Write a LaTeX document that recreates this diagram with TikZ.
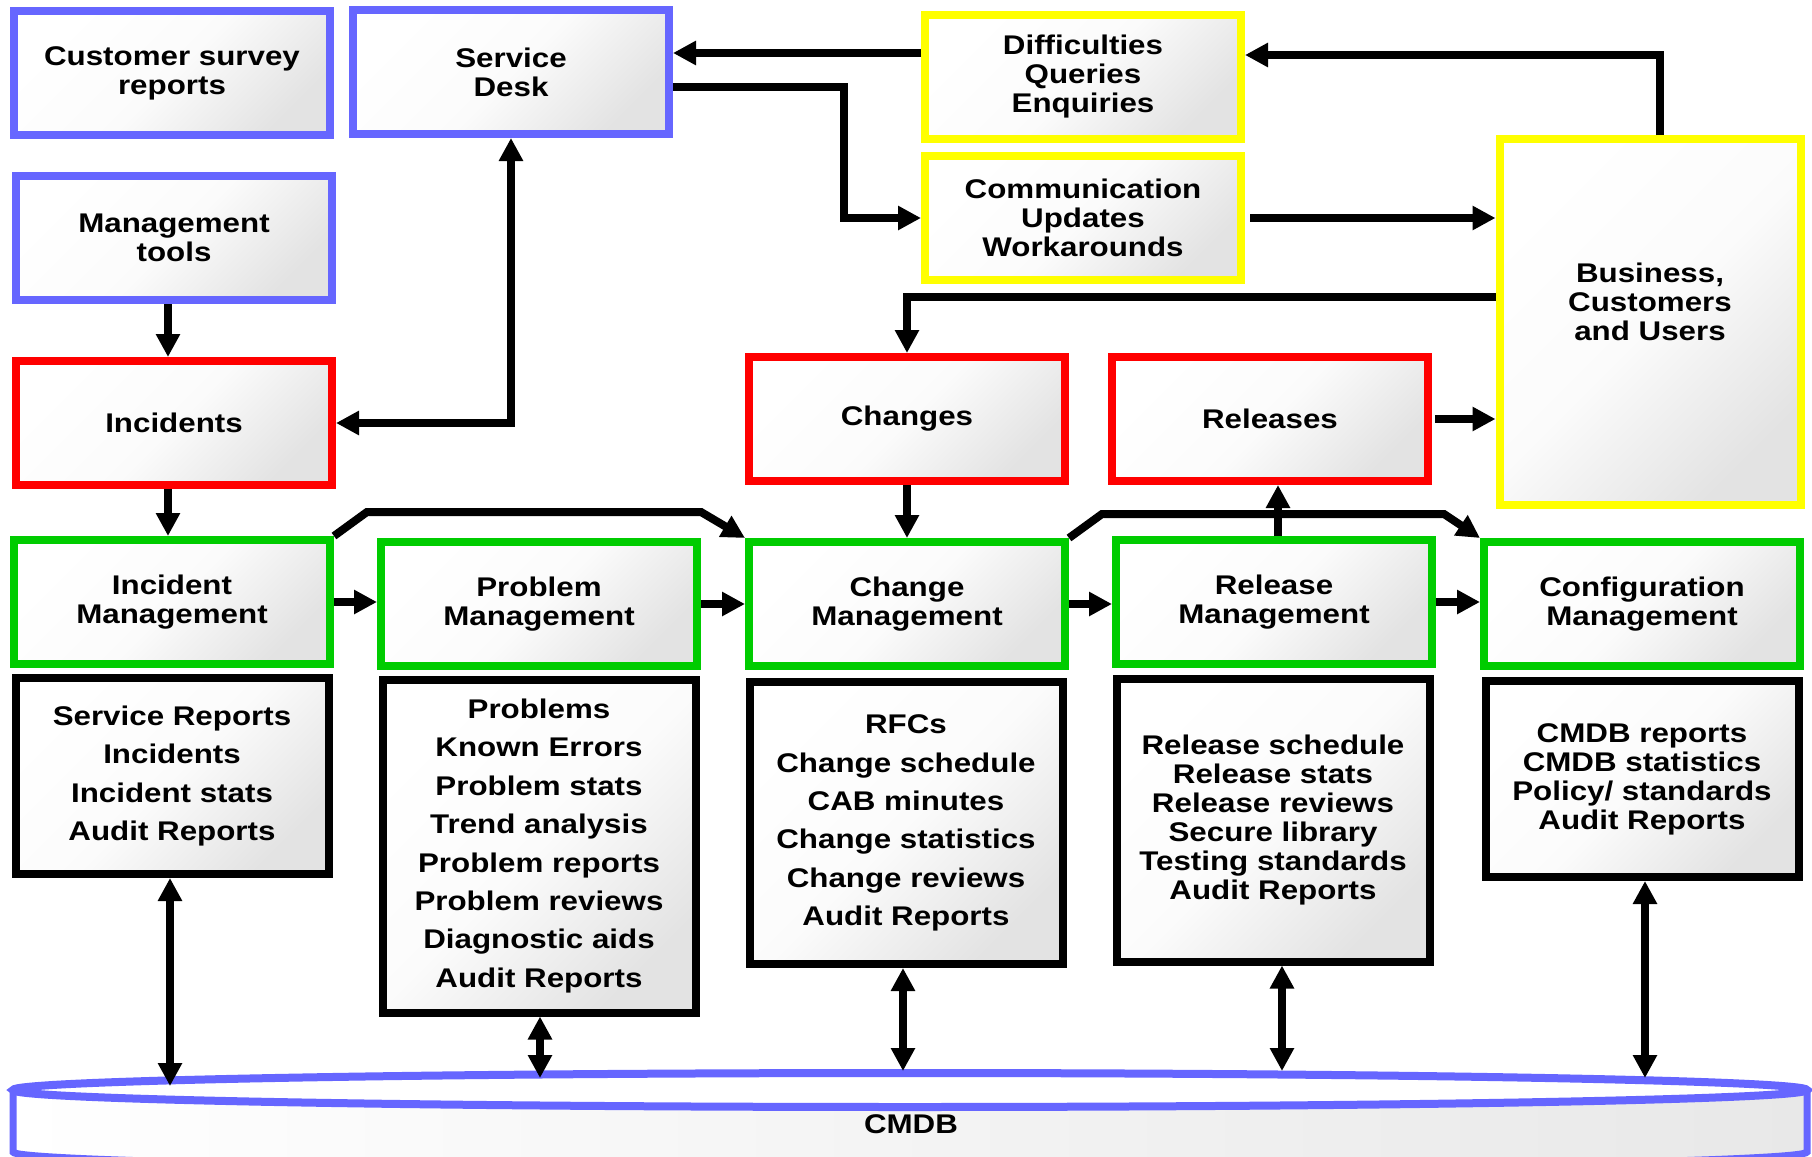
\documentclass[tikz,border=0pt]{standalone}
\usepackage{fontspec}
\newfontfamily\boxfont{Liberation Sans Bold}[FakeStretch=1.16]
\usetikzlibrary{arrows.meta,calc}
\definecolor{itilblue}{HTML}{6666FF}
\definecolor{itilred}{HTML}{FF0000}
\definecolor{itilyellow}{HTML}{FFFF00}
\definecolor{itilgreen}{HTML}{00CC00}

\begin{document}
\begin{tikzpicture}[x=0.5pt, y=-0.5pt, >={Triangle[length=11.5pt,width=11.5pt]},
	box/.style={draw, line width=4pt, minimum width=158pt, minimum height=62pt, inner sep=2pt, align=center,
		top color=white, bottom color=gray!22, middle color=white!97!gray, shading angle=45, font=\boxfont\fontsize{13.5}{14.5}\selectfont},
	inputbox/.style={box, draw=itilblue},
	eventbox/.style={box, draw=itilred},
	userbox/.style={box, draw=itilyellow},
	procbox/.style={box, draw=itilgreen},
	reportbox/.style={box, draw=black, minimum width=156.5pt},
	loose/.style={font=\boxfont\fontsize{13.5}{19.2}\selectfont},
	flow/.style={->, line width=4pt}]
	\useasboundingbox (0,0) rectangle (1812,1157);
	% sources and users
	\node[inputbox] (survey) at (172,73) {Customer survey\\reports};
	\node[inputbox] (desk) at (511,72) {Service\\Desk};
	\node[inputbox] (tools) at (174,238) {Management\\tools};
	\node[userbox] (queries) at (1083,77) {Difficulties\\Queries\\Enquiries};
	\node[userbox] (comms) at (1083,218) {Communication\\Updates\\Workarounds};
	\node[userbox, minimum width=150.5pt, minimum height=183pt] (business) at (1650,322) {Business,\\Customers\\and Users\\[5.5pt]~};
	% events
	\node[eventbox] (incidents) at (174,423) {Incidents};
	\node[eventbox] (changes) at (907,419) {Changes};
	\node[eventbox] (releases) at (1270,419) {Releases};
	% processes
	\node[procbox] (incmgmt) at (172,602) {Incident\\Management};
	\node[procbox] (probmgmt) at (539,604) {Problem\\Management};
	\node[procbox] (chgmgmt) at (907,604) {Change\\Management};
	\node[procbox] (relmgmt) at (1274,602) {Release\\Management};
	\node[procbox] (cfgmgmt) at (1642,604) {Configuration\\Management};
	% outputs
	\node[reportbox, loose, minimum height=98pt] (increp) at (172,776) {Service Reports\\Incidents\\Incident stats\\Audit Reports};
	\node[reportbox, loose, minimum height=166.5pt] (probrep) at (539,846) {Problems\\Known Errors\\Problem stats\\Trend analysis\\Problem reports\\Problem reviews\\Diagnostic aids\\Audit Reports};
	\node[reportbox, loose, minimum height=141pt] (chgrep) at (906,823) {RFCs\\Change schedule\\CAB minutes\\Change statistics\\Change reviews\\Audit Reports};
	\node[reportbox, minimum height=141.5pt] (relrep) at (1273,820) {Release schedule\\Release stats\\Release reviews\\Secure library\\Testing standards\\Audit Reports};
	\node[reportbox, minimum height=98pt] (cfgrep) at (1642,779) {CMDB reports\\CMDB statistics\\Policy/ standards\\Audit Reports};
	% CMDB drum
	\fill[left color=white, right color=gray!18] (13,1090) -- (13,1152) arc[start angle=180, end angle=0, x radius=897, y radius=17] -- (1807,1090) -- cycle;
	\draw[itilblue, line width=3.5pt] (13,1090) -- (13,1152) arc[start angle=180, end angle=0, x radius=897, y radius=17] -- (1807,1090);
	\draw[itilblue, line width=4pt, fill=white] (910,1090) ellipse[x radius=897, y radius=17];
	\node[font=\boxfont\fontsize{13.5}{14.5}\selectfont] (cmdb) at (911,1124) {CMDB};
	% connectors
	\coordinate (qd) at ($(queries.west)+(0,-24)$);
	\draw[flow] (qd) -- (qd -| desk.east);
	\draw[flow] ($(desk.east)+(0,15)$) -- ++(171,0) |- (comms.west);
	\draw[flow] ($(comms.east)+(5,0)$) -- (comms.east -| business.west);
	\draw[flow] ($(business.north)+(10,0)$) |- ($(queries.east)+(0,-22)$);
	\draw[flow] ($(business.west)+(0,-25)$) -| (changes.north);
	\draw[flow] ([xshift=-3pt]tools.south) -- ([xshift=-3pt]incidents.north);
	\draw[flow, <->] (incidents.east) -| (desk.south);
	\draw[flow] ([xshift=-3pt]incidents.south) -- ([xshift=-3pt]incidents.south |- incmgmt.north);
	\foreach \a/\b in {incmgmt/probmgmt, probmgmt/chgmgmt, chgmgmt/relmgmt, relmgmt/cfgmgmt}
		\draw[flow] (\a.east) -- (\a.east -| \b.west);
	\draw[flow] (changes.south) -- (chgmgmt.north);
	\draw[flow] ([xshift=2pt]relmgmt.north) -- ([xshift=2pt]relmgmt.north |- releases.south);
	\draw[flow] ($(releases.east)+(3,0)$) -- (releases.east -| business.west);
	\draw[flow] (incmgmt.north east) -- ++(33,-24) -- ++(334,0) -- (chgmgmt.north west);
	\draw[flow] (chgmgmt.north east) -- ++(33,-24) -- ++(342,0) -- (cfgmgmt.north west);
	\foreach \rep/\x/\y in {increp/170/1086, probrep/540/1078, chgrep/903/1071, relrep/1282/1071, cfgrep/1645/1078}{
		\coordinate (db) at (\x,\y);
		\draw[flow, <->] (db |- \rep.south) -- (db);
	}
\end{tikzpicture}
\end{document}
